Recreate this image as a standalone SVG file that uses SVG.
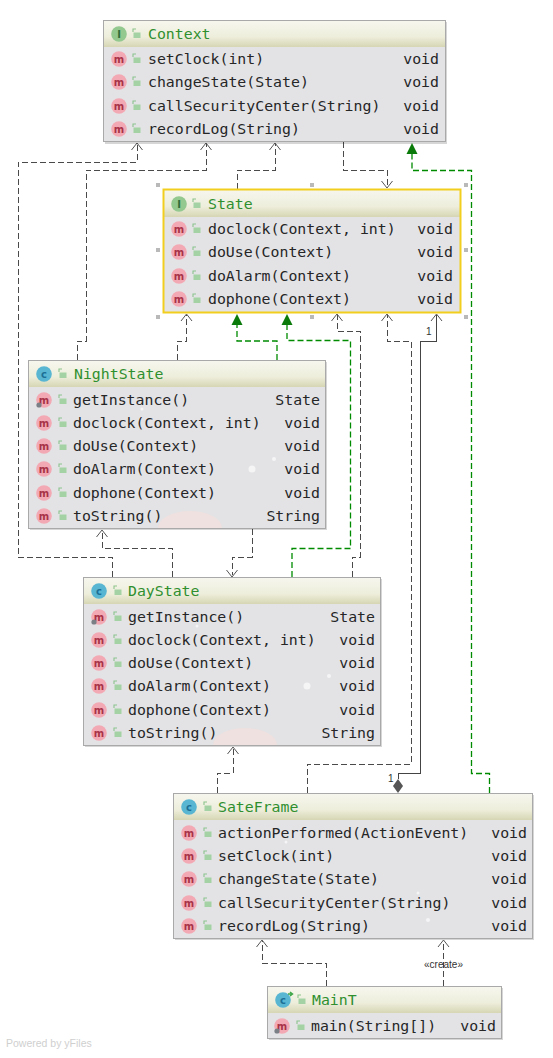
<svg xmlns="http://www.w3.org/2000/svg" width="553" height="1058" viewBox="0 0 553 1058">
<style>
text{font-family:"DejaVu Sans Mono","Liberation Mono",monospace;font-size:14.85px;fill:#262626}
.title{fill:#2f8f2f}
.ret{text-anchor:end}
.box{fill:#e3e3e6;stroke:#a9a9a9;stroke-width:1}
.hm{fill:url(#head)}
.dep{fill:none;stroke:#4a4a4a;stroke-width:1;stroke-dasharray:6 3;shape-rendering:crispEdges}
.dep-g{fill:none;stroke:#008a00;stroke-width:1.3;stroke-dasharray:6 3}
.solid{fill:none;stroke:#444;stroke-width:1;shape-rendering:crispEdges}
.dot{fill:#fff;opacity:.65}
.blob{fill:#f2e0dc;opacity:.75}
.sh{fill:#000;opacity:.16}
.h{fill:#b9b9b9}
.mi{fill:#f3a9b3}
.mt{font-family:"DejaVu Sans","Liberation Sans",sans-serif;font-size:10px;fill:#a83248;text-anchor:middle;font-weight:bold}
.ci{fill:#58b6d2}
.ii{fill:#93c88f}
.it{font-family:"DejaVu Sans","Liberation Sans",sans-serif;font-size:10px;fill:#2f6e3a;text-anchor:middle;font-weight:bold}
.ct{font-family:"DejaVu Sans","Liberation Sans",sans-serif;font-size:10px;fill:#1d6f96;text-anchor:middle;font-weight:bold}
.lk{fill:none;stroke:#8cc48c;stroke-width:1.1}
.lb{fill:#a4d2a4}
.small{font-family:"Liberation Sans",Arial,sans-serif;font-size:10px;fill:#333}
</style>
<defs>
<linearGradient id="head" x1="0" y1="0" x2="0" y2="1"><stop offset="0" stop-color="#f6f6ee"/><stop offset=".6" stop-color="#eeeedc"/><stop offset="1" stop-color="#d6d6b4"/></linearGradient>
<g id="lock"><path class="lk" d="M-3 -2 V-5 H0"/><rect class="lb" x="-2.500" y="-1.500" width="7" height="5.500"/></g>
<g id="m"><circle class="mi" r="7.800"/><text class="mt" y="3.500">m</text></g>
<g id="st"><circle r="2.600" cx="-5" cy="5" fill="#7b7f86"/></g>
</defs>

<g id="connectors">
<path class="dep" d="M112 577V557H18V162H137V144"/>
<path class="dep" d="M77 360V341H86V170H206V144"/>
<path class="dep" d="M237 189V170H275V144"/>
<path class="dep" d="M343 142V170H387V187"/>
<path class="dep-g" d="M489.500 793V773.500H471.500V170.500H412V154"/>
<polygon points="412,143 406.500,154 417.500,154" fill="#0a7a0a"/>
<path class="dep" d="M177 360V341H186.500V315"/>
<path class="dep-g" d="M277 360V341H237V325"/>
<polygon points="237,314 231.500,325 242.500,325" fill="#0a7a0a"/>
<path class="dep-g" d="M292 577V548.500H350.500V340.500H287V325"/>
<polygon points="287,314 281.500,325 292.500,325" fill="#0a7a0a"/>
<path class="dep" d="M352 577V557H360V331H337V315"/>
<path class="dep" d="M307 793V764H411V341H387V315"/>
<path class="solid" d="M398 779V773H420V341H436.500V315"/>
<polygon points="398,779 403,786 398,793 393,786" fill="#555"/>
<path class="dep" d="M252 529V557H232V575"/>
<path class="dep" d="M172 577V548H102V531"/>
<path class="dep" d="M217 793V773H233V748"/>
<path class="dep" d="M326 986V963H262V941"/>
<path class="dep" d="M443.500 986V941"/>
<g fill="none" stroke="#555" stroke-width="1">
<path d="M131.500 150L137 143L142.500 150M200.500 150L206 143L211.500 150M269.500 150L275 143L280.500 150"/>
<path d="M381.500 181L387 188L392.500 181"/>
<path d="M181 321L186.500 314L192 321M331.500 321L337 314L342.500 321M381.500 321L387 314L392.500 321M431 321L436.500 314L442 321"/>
<path d="M226.500 570L232 577L237.500 570M96.500 537L102 530L107.500 537M227.500 754L233 747L238.500 754M256.500 947L262 940L267.500 947M438 947L443.500 940L449 947"/>
</g>
<text class="small" x="426" y="335">1</text>
<text class="small" x="388" y="782">1</text>
<text class="small" x="443.500" y="967.500" text-anchor="middle">«create»</text>
</g>

<g id="handles">
<rect class="h" x="156" y="183" width="4" height="4"/><rect class="h" x="310" y="183" width="4" height="4"/><rect class="h" x="464" y="183" width="4" height="4"/>
<rect class="h" x="156" y="248" width="4" height="4"/><rect class="h" x="464" y="248" width="4" height="4"/>
<rect class="h" x="156" y="315" width="4" height="4"/><rect class="h" x="310" y="315" width="4" height="4"/><rect class="h" x="464" y="315" width="4" height="4"/>
</g>

<g id="Context">
<rect class="sh" x="105" y="22" width="342" height="122"/>
<rect class="box" x="103.500" y="20.500" width="342" height="121"/>
<rect class="hm" x="104" y="21" width="341" height="26"/>
<circle class="ii" cx="119" cy="34" r="7.800"/><text class="it" x="119" y="37.500">I</text>
<use href="#lock" x="136" y="34"/>
<text class="title" x="148" y="38.500">Context</text>
<use href="#m" x="119" y="59"/><use href="#lock" x="136" y="59"/><text x="148" y="64">setClock(int)</text><text class="ret" x="439" y="64">void</text>
<use href="#m" x="119" y="82"/><use href="#lock" x="136" y="82"/><text x="148" y="87">changeState(State)</text><text class="ret" x="439" y="87">void</text>
<use href="#m" x="119" y="106"/><use href="#lock" x="136" y="106"/><text x="148" y="110.500">callSecurityCenter(String)</text><text class="ret" x="439" y="110.500">void</text>
<use href="#m" x="119" y="129"/><use href="#lock" x="136" y="129"/><text x="148" y="134">recordLog(String)</text><text class="ret" x="439" y="134">void</text>
</g>

<g id="State">
<rect class="box" x="163.500" y="189.500" width="297" height="123"/>
<rect class="hm" x="164" y="190" width="296" height="27"/>
<rect x="163.500" y="189.500" width="297" height="123" fill="none" stroke="#f2cf1e" stroke-width="2"/>
<circle class="ii" cx="179" cy="204" r="7.800"/><text class="it" x="179" y="207.500">I</text>
<use href="#lock" x="196" y="204"/>
<text class="title" x="208" y="208.500">State</text>
<use href="#m" x="179" y="229"/><use href="#lock" x="196" y="229"/><text x="208" y="234">doclock(Context, int)</text><text class="ret" x="453" y="234">void</text>
<use href="#m" x="179" y="252"/><use href="#lock" x="196" y="252"/><text x="208" y="257">doUse(Context)</text><text class="ret" x="453" y="257">void</text>
<use href="#m" x="179" y="276"/><use href="#lock" x="196" y="276"/><text x="208" y="280.500">doAlarm(Context)</text><text class="ret" x="453" y="280.500">void</text>
<use href="#m" x="179" y="299"/><use href="#lock" x="196" y="299"/><text x="208" y="303.500">dophone(Context)</text><text class="ret" x="453" y="303.500">void</text>
</g>

<g id="NightState">
<rect class="sh" x="30" y="362" width="297" height="168"/>
<rect class="box" x="28.500" y="360.500" width="297" height="168"/>
<rect class="hm" x="29" y="361" width="296" height="26"/>
<clipPath id="cn"><rect x="29" y="387" width="296" height="141"/></clipPath>
<ellipse class="blob" cx="190" cy="528" rx="32" ry="17" clip-path="url(#cn)"/>
<circle class="dot" cx="252" cy="469" r="3.500"/><circle class="dot" cx="274" cy="459" r="2"/><circle class="dot" cx="142" cy="409" r="1.500"/>
<circle class="ci" cx="44" cy="374" r="7.800"/><text class="ct" x="44" y="377.500">c</text>
<use href="#lock" x="62" y="374"/>
<text class="title" x="74" y="378.500">NightState</text>
<use href="#m" x="44" y="400"/><use href="#st" x="44" y="400"/><use href="#lock" x="62" y="400"/><text x="73" y="404.500">getInstance()</text><text class="ret" x="320" y="404.500">State</text>
<use href="#m" x="44" y="423"/><use href="#lock" x="62" y="423"/><text x="73" y="428">doclock(Context, int)</text><text class="ret" x="320" y="428">void</text>
<use href="#m" x="44" y="446"/><use href="#lock" x="62" y="446"/><text x="73" y="451">doUse(Context)</text><text class="ret" x="320" y="451">void</text>
<use href="#m" x="44" y="469"/><use href="#lock" x="62" y="469"/><text x="73" y="474">doAlarm(Context)</text><text class="ret" x="320" y="474">void</text>
<use href="#m" x="44" y="493"/><use href="#lock" x="62" y="493"/><text x="73" y="497.500">dophone(Context)</text><text class="ret" x="320" y="497.500">void</text>
<use href="#m" x="44" y="516"/><use href="#lock" x="62" y="516"/><text x="73" y="520.500">toString()</text><text class="ret" x="320" y="520.500">String</text>
</g>

<g id="DayState">
<rect class="sh" x="85" y="579" width="297" height="168"/>
<rect class="box" x="83.500" y="577.500" width="297" height="168"/>
<rect class="hm" x="84" y="578" width="296" height="26"/>
<clipPath id="cd"><rect x="84" y="604" width="296" height="141"/></clipPath>
<ellipse class="blob" cx="245" cy="745" rx="32" ry="17" clip-path="url(#cd)"/>
<circle class="dot" cx="307" cy="686" r="3.500"/><circle class="dot" cx="329" cy="676" r="2"/><circle class="dot" cx="197" cy="626" r="1.500"/>
<circle class="ci" cx="99" cy="591" r="7.800"/><text class="ct" x="99" y="594.500">c</text>
<use href="#lock" x="117" y="591"/>
<text class="title" x="128" y="595.500">DayState</text>
<use href="#m" x="99" y="617"/><use href="#st" x="99" y="617"/><use href="#lock" x="117" y="617"/><text x="128" y="621.500">getInstance()</text><text class="ret" x="375" y="621.500">State</text>
<use href="#m" x="99" y="640"/><use href="#lock" x="117" y="640"/><text x="128" y="645">doclock(Context, int)</text><text class="ret" x="375" y="645">void</text>
<use href="#m" x="99" y="663"/><use href="#lock" x="117" y="663"/><text x="128" y="668">doUse(Context)</text><text class="ret" x="375" y="668">void</text>
<use href="#m" x="99" y="686"/><use href="#lock" x="117" y="686"/><text x="128" y="691">doAlarm(Context)</text><text class="ret" x="375" y="691">void</text>
<use href="#m" x="99" y="710"/><use href="#lock" x="117" y="710"/><text x="128" y="714.500">dophone(Context)</text><text class="ret" x="375" y="714.500">void</text>
<use href="#m" x="99" y="733"/><use href="#lock" x="117" y="733"/><text x="128" y="737.500">toString()</text><text class="ret" x="375" y="737.500">String</text>
</g>

<g id="SateFrame">
<rect class="sh" x="175" y="795" width="359" height="145"/>
<rect class="box" x="173.500" y="793.500" width="359" height="145"/>
<rect class="hm" x="174" y="794" width="358" height="26"/>
<circle class="dot" cx="428" cy="920" r="2"/><circle class="dot" cx="418" cy="893" r="1.500"/><circle class="dot" cx="286" cy="842" r="1.500"/>
<circle class="ci" cx="189" cy="807" r="7.800"/><text class="ct" x="189" y="810.500">c</text>
<use href="#lock" x="207" y="807"/>
<text class="title" x="218" y="812">SateFrame</text>
<use href="#m" x="189" y="833"/><use href="#lock" x="207" y="833"/><text x="218" y="837.500">actionPerformed(ActionEvent)</text><text class="ret" x="527" y="837.500">void</text>
<use href="#m" x="189" y="856"/><use href="#lock" x="207" y="856"/><text x="218" y="861">setClock(int)</text><text class="ret" x="527" y="861">void</text>
<use href="#m" x="189" y="879"/><use href="#lock" x="207" y="879"/><text x="218" y="884">changeState(State)</text><text class="ret" x="527" y="884">void</text>
<use href="#m" x="189" y="903"/><use href="#lock" x="207" y="903"/><text x="218" y="907.500">callSecurityCenter(String)</text><text class="ret" x="527" y="907.500">void</text>
<use href="#m" x="189" y="926"/><use href="#lock" x="207" y="926"/><text x="218" y="931">recordLog(String)</text><text class="ret" x="527" y="931">void</text>
</g>

<g id="MainT">
<rect class="sh" x="269" y="988" width="234" height="52"/>
<rect class="box" x="267.500" y="986.500" width="234" height="52"/>
<rect class="hm" x="268" y="987" width="233" height="26"/>
<circle class="ci" cx="283" cy="1000" r="7.800"/><text class="ct" x="283" y="1003.500">c</text>
<path d="M288 994h4M290 992l2.500 2l-2.500 2" fill="none" stroke="#3fa64a" stroke-width="1.500"/>
<use href="#lock" x="301" y="1000"/>
<text class="title" x="312" y="1005">MainT</text>
<use href="#m" x="282" y="1026"/><use href="#st" x="282" y="1026"/><use href="#lock" x="300" y="1026"/><text x="311" y="1031">main(String[])</text><text class="ret" x="496" y="1031">void</text>
</g>

<text x="6" y="1047" style="font-family:'Liberation Sans',Arial,sans-serif;font-size:10.500px;fill:#cfcfcf">Powered by yFiles</text>
</svg>
